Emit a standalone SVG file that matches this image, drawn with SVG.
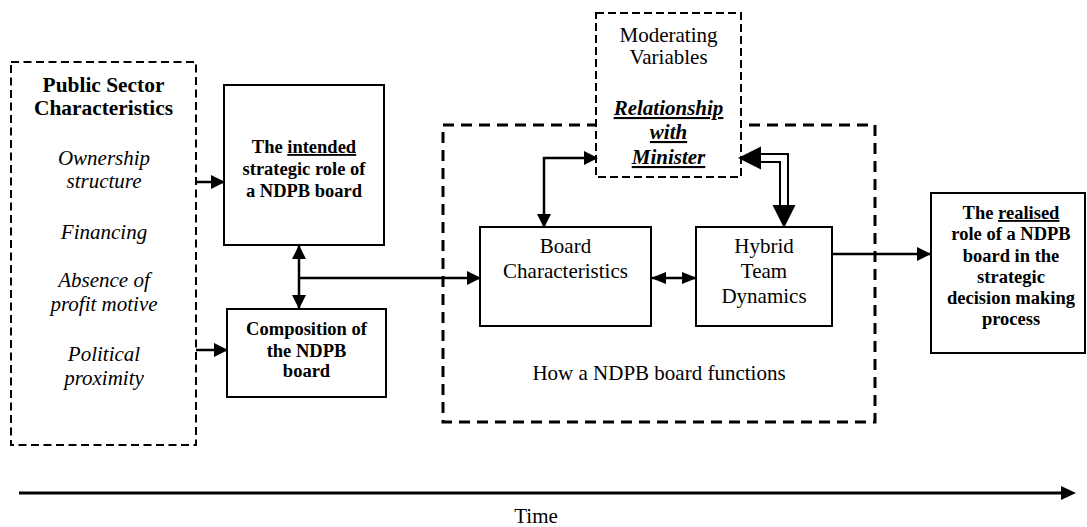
<svg xmlns="http://www.w3.org/2000/svg" width="1087" height="527" viewBox="0 0 1087 527" font-family="'Liberation Serif', 'Times New Roman', 'DejaVu Serif', serif">
<style>
text{font-family:'Liberation Serif','Times New Roman','DejaVu Serif',serif;fill:#000;text-anchor:middle}
.reg{font-size:21px}
.it{font-size:21px;font-style:italic}
.hd{font-size:21.4px;font-weight:bold}
.bb{font-size:18.5px;font-weight:bold}
.bi{font-size:21px;font-weight:bold;font-style:italic;text-decoration:underline}
.box{fill:#fff;stroke:#000;stroke-width:2}
.dash{fill:none;stroke:#000;stroke-width:2;stroke-dasharray:8 4.5}
.dashw{fill:#fff;stroke:#000;stroke-width:2;stroke-dasharray:8 4}
.dashb{fill:none;stroke:#000;stroke-width:3;stroke-dasharray:11 7}
.ln{fill:none;stroke:#000;stroke-width:2.5}
.u{text-decoration:underline}
</style>
<defs>
<marker id="ah" markerUnits="userSpaceOnUse" markerWidth="14" markerHeight="16" refX="13" refY="7" orient="auto-start-reverse" viewBox="0 0 14 14">
<path d="M0,0 L14,7 L0,14 z" fill="#000"/>
</marker>
<marker id="ahs" markerUnits="userSpaceOnUse" markerWidth="15" markerHeight="12" refX="14" refY="6" orient="auto-start-reverse" viewBox="0 0 15 12">
<path d="M0,0 L15,6 L0,12 z" fill="#000"/>
</marker>
</defs>

<g id="ndpb-functions">
<rect class="dashb" x="443" y="125" width="432" height="297"/>
<text class="reg" x="659" y="380">How a NDPB board functions</text>
</g>

<g id="public-sector">
<rect class="dash" x="11" y="62" width="185" height="383"/>
<text class="hd" x="103.5" y="92">Public Sector</text>
<text class="hd" x="103.5" y="115">Characteristics</text>
<text class="it" x="104" y="165">Ownership</text>
<text class="it" x="104" y="188">structure</text>
<text class="it" x="104" y="239">Financing</text>
<text class="it" x="104" y="287">Absence of</text>
<text class="it" x="104" y="311">profit motive</text>
<text class="it" x="104" y="361">Political</text>
<text class="it" x="104" y="385">proximity</text>
</g>

<g id="intended-role">
<rect class="box" x="224" y="85" width="160" height="160"/>
<text class="bb" x="304" y="153">The <tspan class="u">intended</tspan></text>
<text class="bb" x="304" y="175">strategic role of</text>
<text class="bb" x="304" y="197">a NDPB board</text>
</g>

<g id="composition">
<rect class="box" x="227" y="309" width="159" height="88"/>
<text class="bb" x="306.5" y="335">Composition of</text>
<text class="bb" x="306.5" y="357">the NDPB</text>
<text class="bb" x="306.5" y="377">board</text>
</g>

<g id="moderating">
<rect class="dashw" x="596" y="13" width="145" height="164"/>
<text class="reg" x="668.5" y="42">Moderating</text>
<text class="reg" x="668.5" y="64">Variables</text>
<text class="bi" x="668.5" y="115">Relationship</text>
<text class="bi" x="668.5" y="139">with</text>
<text class="bi" x="668.5" y="164">Minister</text>
</g>

<g id="board-characteristics">
<rect class="box" x="480" y="227" width="171" height="99"/>
<text class="reg" x="565.5" y="253">Board</text>
<text class="reg" x="565.5" y="278">Characteristics</text>
</g>

<g id="hybrid">
<rect class="box" x="696" y="227" width="136" height="99"/>
<text class="reg" x="764" y="253">Hybrid</text>
<text class="reg" x="764" y="278">Team</text>
<text class="reg" x="764" y="303">Dynamics</text>
</g>

<g id="realised-role">
<rect class="box" x="931" y="193" width="154" height="160"/>
<text class="bb" x="1011" y="219">The <tspan class="u">realised</tspan></text>
<text class="bb" x="1011" y="240">role of a NDPB</text>
<text class="bb" x="1011" y="261.5">board in the</text>
<text class="bb" x="1011" y="283">strategic</text>
<text class="bb" x="1011" y="304">decision making</text>
<text class="bb" x="1011" y="325">process</text>
</g>

<g id="connectors">
<line class="ln" x1="196" y1="182" x2="224" y2="182" marker-end="url(#ah)"/>
<line class="ln" x1="196" y1="350" x2="227" y2="350" marker-end="url(#ah)"/>
<line class="ln" x1="299" y1="246" x2="299" y2="308" marker-start="url(#ah)" marker-end="url(#ah)"/>
<line class="ln" x1="299" y1="278" x2="480" y2="278" marker-end="url(#ah)"/>
<polyline class="ln" points="544,227 544,158 597,158" marker-start="url(#ah)" marker-end="url(#ah)"/>
<line class="ln" x1="652" y1="278" x2="696" y2="278" marker-start="url(#ahs)" marker-end="url(#ahs)"/>
<line class="ln" x1="832" y1="254" x2="930" y2="254" marker-end="url(#ah)"/>
<path d="M758,154 H788 V206 M758,162 H780 V206" fill="none" stroke="#000" stroke-width="2"/>
<polygon points="738,158 761,146.5 761,169.5" fill="#000"/>
<polygon points="772.5,205 795.5,205 784,228" fill="#000"/>
<line x1="19" y1="493" x2="1063" y2="493" stroke="#000" stroke-width="3"/>
<polygon points="1061,486 1076,493 1061,500" fill="#000"/>
</g>
<text class="reg" x="536" y="523">Time</text>
</svg>
